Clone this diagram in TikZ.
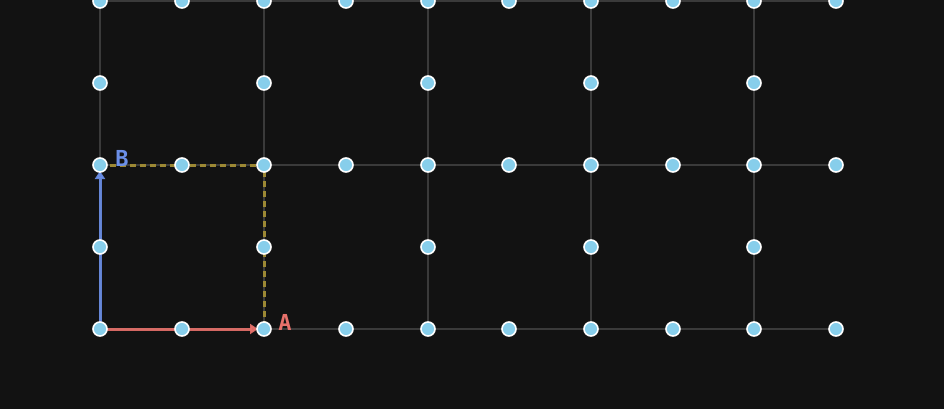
\documentclass[tikz,border=0pt]{standalone}
\usepackage{fontspec}
\setmainfont{DejaVu Sans Mono}
\usetikzlibrary{arrows.meta}
\definecolor{bg}{HTML}{121212}
\definecolor{gridc}{HTML}{3A3A3A}
\definecolor{dotfill}{HTML}{87CEEB}
\definecolor{redc}{HTML}{E8716B}
\definecolor{bluec}{HTML}{6B8FE8}
\definecolor{olive}{HTML}{9C8834}
\tikzset{
  gridline/.style={draw=gridc, line width=2pt},
  dotnode/.style={circle, fill=dotfill, draw=white, line width=1.6pt, minimum size=14pt, inner sep=0pt},
  vecarrow/.style={line width=3pt, -{Triangle[length=8pt,width=10pt]}, opacity=0.9},
  dashline/.style={draw=olive, line width=3pt, dash pattern=on 6pt off 4pt},
  lbl/.style={font=\bfseries\fontsize{22}{24}\selectfont, inner sep=0pt}
}
\begin{document}
\begin{tikzpicture}[x=1pt,y=-1pt]
\fill[bg] (0,0) rectangle (944,409);
\useasboundingbox (0,0) rectangle (944,409);
% grid lines
\foreach \y in {1,165,329} \draw[gridline] (100,\y) -- (836,\y);
\foreach \x in {100,264,428,591,754} \draw[gridline] (\x,1) -- (\x,329);
% dashed guides
\draw[dashline] (100,165) -- (264,165) -- (264,329);
% arrows
\draw[vecarrow, draw=redc, fill=redc] (100,329) -- (258,329);
\draw[vecarrow, draw=bluec, fill=bluec] (100,329) -- (100,171);
% dots
\foreach \x [count=\i] in {100,182,264,346,428,509,591,673,754,836} {
  \node[dotnode] (r1-\i) at (\x,1) {};
  \node[dotnode] (r3-\i) at (\x,165) {};
  \node[dotnode] (r5-\i) at (\x,329) {};
}
\foreach \x [count=\i] in {100,264,428,591,754} {
  \node[dotnode] (r2-\i) at (\x,83) {};
  \node[dotnode] (r4-\i) at (\x,247) {};
}
% labels
\node[lbl, text=bluec] (lb) at (122,158) {B};
\node[lbl, text=redc] (la) at (285,322) {A};
\end{tikzpicture}
\end{document}
